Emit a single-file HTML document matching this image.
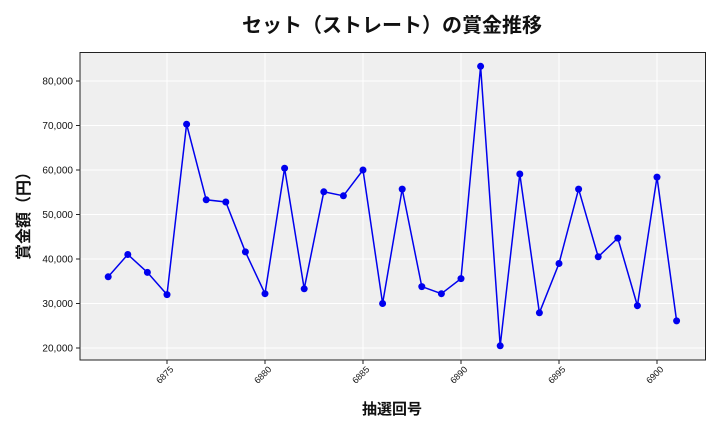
<!DOCTYPE html>
<html><head><meta charset="utf-8"><style>
body{margin:0;background:#fff;}
svg text{font-family:"Liberation Sans","Noto Sans CJK JP",sans-serif;}
</style></head><body>
<svg width="720" height="432" xmlns="http://www.w3.org/2000/svg">
<rect x="80" y="52.5" width="625.5" height="307.5" fill="#efefef"/>
<g stroke="#fff" stroke-width="1">
<line x1="167" y1="52.5" x2="167" y2="360"/><line x1="265" y1="52.5" x2="265" y2="360"/><line x1="363" y1="52.5" x2="363" y2="360"/><line x1="461" y1="52.5" x2="461" y2="360"/><line x1="559" y1="52.5" x2="559" y2="360"/><line x1="657" y1="52.5" x2="657" y2="360"/>
<line x1="80" y1="348" x2="705.5" y2="348"/><line x1="80" y1="303.5" x2="705.5" y2="303.5"/><line x1="80" y1="259" x2="705.5" y2="259"/><line x1="80" y1="214.5" x2="705.5" y2="214.5"/><line x1="80" y1="170" x2="705.5" y2="170"/><line x1="80" y1="125.5" x2="705.5" y2="125.5"/><line x1="80" y1="81" x2="705.5" y2="81"/>
</g>
<rect x="80" y="52.5" width="625.5" height="307.5" fill="none" stroke="#222" stroke-width="1"/>
<g stroke="#222"><line x1="76" y1="348" x2="80" y2="348"/><line x1="76" y1="303.5" x2="80" y2="303.5"/><line x1="76" y1="259" x2="80" y2="259"/><line x1="76" y1="214.5" x2="80" y2="214.5"/><line x1="76" y1="170" x2="80" y2="170"/><line x1="76" y1="125.5" x2="80" y2="125.5"/><line x1="76" y1="81" x2="80" y2="81"/>
<line x1="167" y1="360" x2="167" y2="364"/><line x1="265" y1="360" x2="265" y2="364"/><line x1="363" y1="360" x2="363" y2="364"/><line x1="461" y1="360" x2="461" y2="364"/><line x1="559" y1="360" x2="559" y2="364"/><line x1="657" y1="360" x2="657" y2="364"/></g>
<g font-size="10" text-anchor="end" fill="#111">
<text x="73" y="351.5">20,000</text><text x="73" y="307">30,000</text><text x="73" y="262.5">40,000</text><text x="73" y="218">50,000</text><text x="73" y="173.5">60,000</text><text x="73" y="129">70,000</text><text x="73" y="84.5">80,000</text>
</g>
<g font-size="9" text-anchor="end" fill="#111">
<text transform="translate(174,370) rotate(-45)">6875</text><text transform="translate(272,370) rotate(-45)">6880</text><text transform="translate(370,370) rotate(-45)">6885</text><text transform="translate(468,370) rotate(-45)">6890</text><text transform="translate(566,370) rotate(-45)">6895</text><text transform="translate(664,370) rotate(-45)">6900</text>
</g>
<polyline fill="none" stroke="#0000ee" stroke-width="1.5" points="108.2,276.8 127.8,254.5 147.4,272.4 167,294.6 186.6,124.2 206.2,199.8 225.8,202 245.4,251.9 265,293.7 284.6,168.2 304.2,288.8 323.8,191.8 343.4,195.8 363,170 382.6,303.5 402.2,189.1 421.8,286.6 441.4,293.7 461,278.6 480.6,66.3 500.2,345.8 519.8,174 539.4,312.8 559,263.5 578.6,189.1 598.2,256.8 617.8,238.1 637.4,305.7 657,177.1 676.6,320.9"/>
<g fill="#0000ee">
<circle cx="108.2" cy="276.8" r="3.5"/><circle cx="127.8" cy="254.5" r="3.5"/><circle cx="147.4" cy="272.4" r="3.5"/><circle cx="167" cy="294.6" r="3.5"/><circle cx="186.6" cy="124.2" r="3.5"/><circle cx="206.2" cy="199.8" r="3.5"/><circle cx="225.8" cy="202" r="3.5"/><circle cx="245.4" cy="251.9" r="3.5"/><circle cx="265" cy="293.7" r="3.5"/><circle cx="284.6" cy="168.2" r="3.5"/><circle cx="304.2" cy="288.8" r="3.5"/><circle cx="323.8" cy="191.8" r="3.5"/><circle cx="343.4" cy="195.8" r="3.5"/><circle cx="363" cy="170" r="3.5"/><circle cx="382.6" cy="303.5" r="3.5"/><circle cx="402.2" cy="189.1" r="3.5"/><circle cx="421.8" cy="286.6" r="3.5"/><circle cx="441.4" cy="293.7" r="3.5"/><circle cx="461" cy="278.6" r="3.5"/><circle cx="480.6" cy="66.3" r="3.5"/><circle cx="500.2" cy="345.8" r="3.5"/><circle cx="519.8" cy="174" r="3.5"/><circle cx="539.4" cy="312.8" r="3.5"/><circle cx="559" cy="263.5" r="3.5"/><circle cx="578.6" cy="189.1" r="3.5"/><circle cx="598.2" cy="256.8" r="3.5"/><circle cx="617.8" cy="238.1" r="3.5"/><circle cx="637.4" cy="305.7" r="3.5"/><circle cx="657" cy="177.1" r="3.5"/><circle cx="676.6" cy="320.9" r="3.5"/>
</g>
<text x="392" y="32" font-size="20" font-weight="bold" text-anchor="middle" fill="#111">セット（ストレート）の賞金推移</text>
<text x="392" y="414" font-size="15" font-weight="bold" text-anchor="middle" fill="#111">抽選回号</text>
<text transform="translate(29,212) rotate(-90)" font-size="16" font-weight="bold" text-anchor="middle" fill="#111">賞金額（円）</text>
</svg>
</body></html>
